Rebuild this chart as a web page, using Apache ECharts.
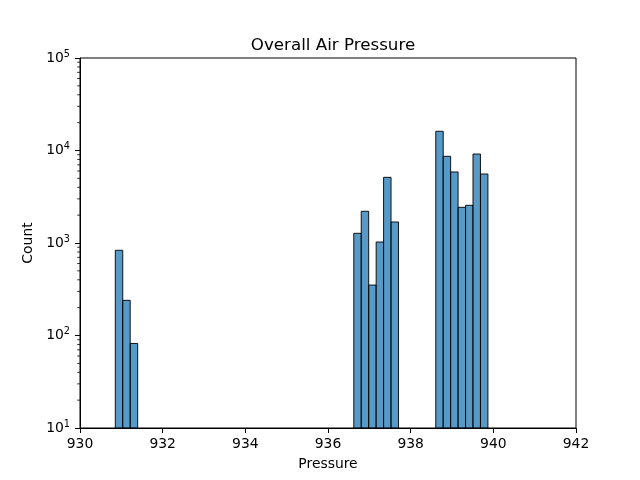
<!DOCTYPE html>
<html>
<head>
<meta charset="utf-8">
<script src="https://cdn.jsdelivr.net/npm/echarts@6/dist/echarts.min.js"></script>
<style>html,body{margin:0;padding:0;background:#fff}#c{width:640px;height:480px}</style>
</head>
<body>
<div id="c"></div>
<script>
// Histogram bins (left edges) and counts
const binLeft = [930.854, 931.034, 931.215,
  936.624, 936.804, 936.985, 937.165, 937.345, 937.526,
  938.607, 938.787, 938.967, 939.148, 939.328, 939.508, 939.689];
const counts = [834, 240, 82,
  1273, 2203, 351, 1025, 5130, 1687,
  16140, 8650, 5860, 2432, 2557, 9160, 5570];
const binWidth = 0.1803;
const xTicks = [930, 932, 934, 936, 938, 940, 942];
const yMinorTicks = [20,30,40,50,60,70,80,90,200,300,400,500,600,700,800,900,
  2000,3000,4000,5000,6000,7000,8000,9000,20000,30000,40000,50000,60000,70000,80000,90000];

const FONT = 'DejaVu Sans';
const chart = echarts.init(document.getElementById('c'), null, {renderer: 'canvas'});
chart.setOption({
  animation: false,
  backgroundColor: '#fff',
  title: {
    text: 'Overall Air Pressure', left: 328, top: 32, textAlign: 'center',
    textStyle: {fontFamily: FONT, fontSize: 16.7, fontWeight: 'normal', color: '#000'}
  },
  grid: {left: 80, right: 64, top: 58, bottom: 52, show: true, borderColor: '#000', borderWidth: 1, backgroundColor: 'transparent'},
  xAxis: {
    type: 'value', min: xTicks[0], max: xTicks[xTicks.length - 1], interval: 2,
    name: 'Pressure', nameLocation: 'middle', nameGap: 29,
    nameTextStyle: {fontFamily: FONT, fontSize: 13.9, color: '#000', verticalAlign: 'top'},
    axisLine: {show: true, lineStyle: {color: '#000', width: 1}},
    axisTick: {show: true, length: 5, lineStyle: {color: '#000', width: 1}},
    axisLabel: {fontFamily: FONT, fontSize: 13.9, color: '#000', margin: 9},
    splitLine: {show: false}
  },
  yAxis: {
    type: 'log', logBase: 10, min: 10, max: 100000,
    name: 'Count', nameLocation: 'middle', nameGap: 39, nameRotate: 90,
    nameTextStyle: {fontFamily: FONT, fontSize: 13.9, color: '#000'},
    axisLine: {show: true, lineStyle: {color: '#000', width: 1}},
    axisTick: {show: true, length: 5, lineStyle: {color: '#000', width: 1}},
    axisLabel: {
      margin: 10,
      formatter: v => '{b|10}{s|' + Math.round(Math.log10(v)) + '}',
      rich: {
        b: {fontFamily: FONT, fontSize: 13.9, color: '#000'},
        s: {fontFamily: FONT, fontSize: 9.7, color: '#000', verticalAlign: 'top', padding: [0, 0, 8, 0]}
      }
    },
    splitLine: {show: false}
  },
  series: [
    {
      type: 'custom',
      data: binLeft.map((x, i) => [x, counts[i]]),
      encode: {x: 0, y: 1},
      renderItem: (params, api) => {
        const x0 = api.value(0), y = api.value(1);
        const p0 = api.coord([x0, y]);
        const p1 = api.coord([x0 + binWidth, 10]);
        return {
          type: 'rect',
          shape: {x: p0[0], y: p0[1], width: p1[0] - p0[0], height: p1[1] - p0[1]},
          style: {fill: 'rgba(31,119,180,0.75)', stroke: 'rgba(0,0,0,0.9)', lineWidth: 1}
        };
      }
    },
    {
      type: 'custom',
      clip: false,
      silent: true,
      data: yMinorTicks.map(v => [xTicks[0], v]),
      encode: {x: 0, y: 1},
      renderItem: (params, api) => {
        const p = api.coord([api.value(0), api.value(1)]);
        return {
          type: 'line',
          shape: {x1: p[0] - 2.8, y1: p[1], x2: p[0], y2: p[1]},
          style: {stroke: '#000', lineWidth: 0.8}
        };
      }
    }
  ]
});
</script>
</body>
</html>
